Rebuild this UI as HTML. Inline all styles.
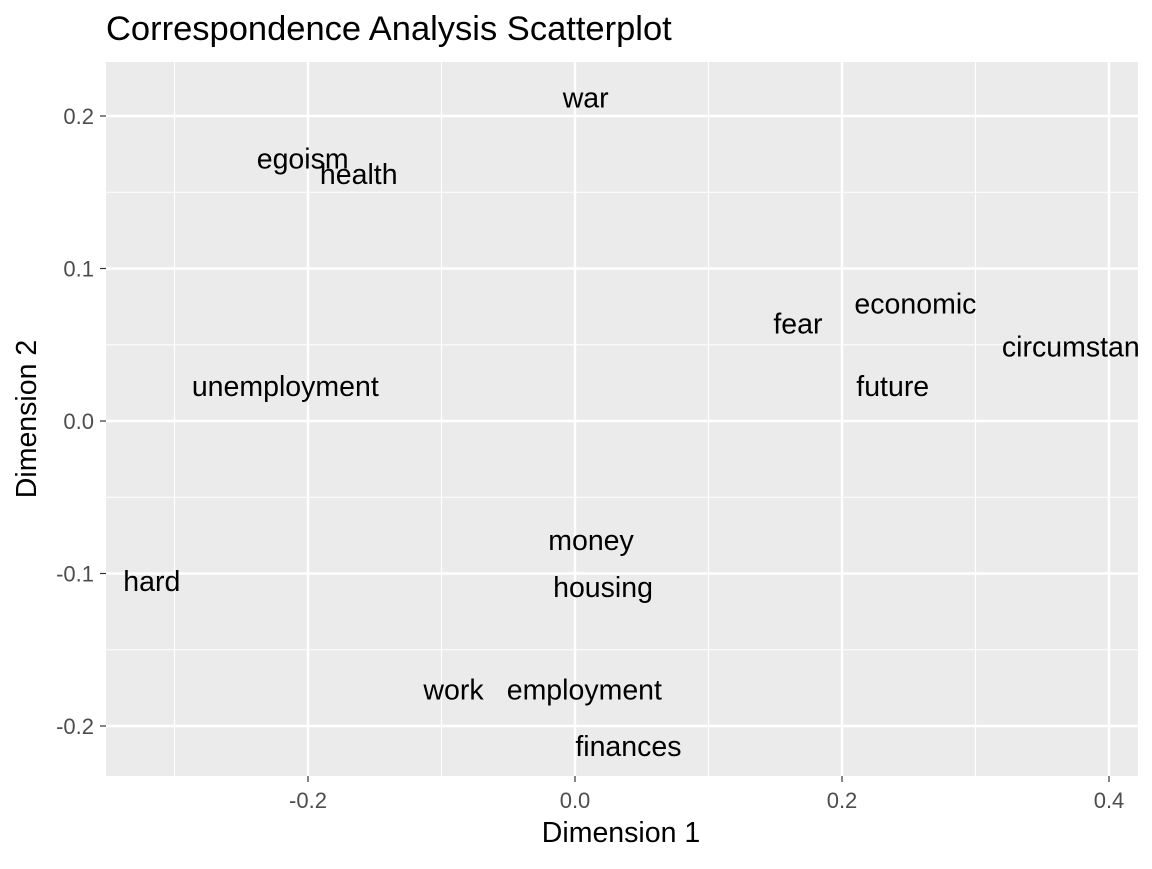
<!DOCTYPE html>
<html><head><meta charset="utf-8"><style>body{margin:0;background:#fff}svg{font-family:"Liberation Sans",sans-serif}</style></head>
<body>
<svg id="chart" width="1152" height="864">
<defs><clipPath id="pc"><rect x="106" y="62" width="1032" height="714"/></clipPath></defs>
<text x="106" y="40" font-size="34.5" fill="#000">Correspondence Analysis Scatterplot</text>
<rect x="106" y="62" width="1032" height="714" fill="#ebebeb"/>
<g id="grid"></g>
<g id="ticks"></g>
<g id="labels" clip-path="url(#pc)"></g>
<text x="621" y="842" font-size="28.5" text-anchor="middle">Dimension 1</text>
<text transform="translate(36,419) rotate(-90)" font-size="28.5" text-anchor="middle">Dimension 2</text>
</svg>
<script>
const words=["war","egoism","health","fear","economic","circumstances","future","unemployment","hard","money","housing","work","employment","finances"];
const dim1=[0.008,-0.204,-0.162,0.167,0.255,0.388,0.238,-0.217,-0.317,0.012,0.021,-0.091,0.007,0.040];
const dim2=[0.212,0.172,0.162,0.064,0.077,0.049,0.023,0.023,-0.105,-0.078,-0.109,-0.176,-0.176,-0.213];
const xTicks=[-0.2,0,0.2,0.4];
const xTickLabels=["-0.2","0.0","0.2","0.4"];
const yTicks=[0.2,0.1,0,-0.1,-0.2];
const yTickLabels=["0.2","0.1","0.0","-0.1","-0.2"];
const xMinor=[-0.3,-0.1,0.1,0.3];
const yMinor=[0.15,0.05,-0.05,-0.15];
const NS="http://www.w3.org/2000/svg";
const X=v=>575+v*1335, Y=v=>421-v*1525;
function mk(t,a,p){const e=document.createElementNS(NS,t);for(const k in a)e.setAttribute(k,a[k]);p.appendChild(e);return e;}
const g=document.getElementById('grid'),tk=document.getElementById('ticks'),lb=document.getElementById('labels');
xMinor.forEach(v=>{const l=mk('line',{x1:X(v),x2:X(v),y1:62,y2:776,stroke:'#fff','stroke-width':1.1},g);
});
yMinor.forEach(v=>{const l=mk('line',{x1:106,x2:1138,y1:Y(v),y2:Y(v),stroke:'#fff','stroke-width':1.1},g);
});
xTicks.forEach((v,i)=>{const l=mk('line',{x1:X(v),x2:X(v),y1:62,y2:776,stroke:'#fff','stroke-width':2.4},g);

mk('line',{x1:X(v),x2:X(v),y1:776,y2:782,stroke:'#333','stroke-width':1.2},tk);
const t=mk('text',{x:X(v),y:808,'font-size':22,fill:'#4d4d4d','text-anchor':'middle'},tk);t.textContent=xTickLabels[i];
});
yTicks.forEach((v,i)=>{const l=mk('line',{x1:106,x2:1138,y1:Y(v),y2:Y(v),stroke:'#fff','stroke-width':2.4},g);

mk('line',{x1:100,x2:106,y1:Y(v),y2:Y(v),stroke:'#333','stroke-width':1.2},tk);
const t=mk('text',{x:94,y:Y(v)+8,'font-size':22,fill:'#4d4d4d','text-anchor':'end'},tk);t.textContent=yTickLabels[i];
});
words.forEach((w,i)=>{const t=mk('text',{x:X(dim1[i]),y:Y(dim2[i])+10,'font-size':28.5,fill:'#000','text-anchor':'middle'},lb);t.textContent=w;
});
</script>
</body></html>
